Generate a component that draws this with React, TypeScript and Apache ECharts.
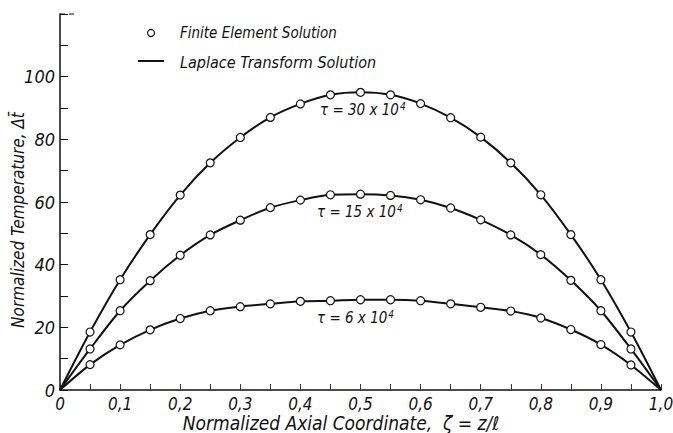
import React, { useEffect, useRef } from "react";
import * as echarts from "echarts";

const zeta = [0.05, 0.1, 0.15, 0.2, 0.25, 0.3, 0.35, 0.4, 0.45, 0.5, 0.55, 0.6, 0.65, 0.7, 0.75, 0.8, 0.85, 0.9, 0.95];
const tau30 = [18.5, 35.2, 49.6, 62.2, 72.5, 80.6, 87.0, 91.3, 94.2, 95.0, 94.2, 91.4, 86.9, 80.7, 72.5, 62.3, 49.6, 35.2, 18.5];
const tau15 = [13.1, 25.3, 34.9, 43.0, 49.5, 54.2, 58.2, 60.6, 62.3, 62.5, 62.1, 60.7, 58.1, 54.3, 49.5, 43.2, 35.0, 25.3, 13.1];
const tau6 = [8.1, 14.4, 19.2, 22.8, 25.3, 26.6, 27.5, 28.3, 28.5, 28.8, 28.8, 28.5, 27.5, 26.4, 25.2, 23.0, 19.3, 14.5, 8.0];
const curveLabels = ["30", "15", "6"];
const legendNames = ["Finite Element Solution", "Laplace Transform Solution"];
const xAxisTitle = "Normalized Axial Coordinate,  ζ = z/ℓ";
const yAxisTitle = "Normalized Temperature, Δt̄";

const FONT = "'Liberation Sans Narrow', 'DejaVu Sans Condensed', 'Liberation Sans', sans-serif";

export default function App() {
  const ref = useRef<HTMLDivElement>(null);
  useEffect(() => {
    if (!ref.current) return;
    const chart = echarts.init(ref.current, null, { renderer: "svg" });
    const sets = [tau30, tau15, tau6];
    const lineData = (vals: number[]) => [[0, 0], ...zeta.map((z, i) => [z, vals[i]]), [1, 0]];
    const ptData = (vals: number[]) => zeta.map((z, i) => [z, vals[i]]);
    const series: any[] = [];
    sets.forEach((vals) => {
      series.push({
        type: "line",
        data: lineData(vals),
        smooth: 0.3,
        showSymbol: false,
        symbol: "none",
        lineStyle: { color: "#111", width: 2 },
        z: 2,
      });
    });
    sets.forEach((vals) => {
      series.push({
        type: "scatter",
        data: ptData(vals),
        symbol: "circle",
        symbolSize: 8,
        itemStyle: { color: "#fff", borderColor: "#111", borderWidth: 1.2, opacity: 1 },
        z: 3,
      });
    });
    const labelPos = [
      { x: 320, y: 110 },
      { x: 317, y: 212 },
      { x: 317, y: 318 },
    ];
    const graphics: any[] = [
      {
        type: "circle",
        shape: { cx: 151, cy: 33, r: 3.5 },
        style: { fill: "#fff", stroke: "#111", lineWidth: 1.2 },
      },
      {
        type: "text",
        x: 180,
        y: 33,
        style: { text: legendNames[0], font: `italic 15px ${FONT}`, fill: "#111", verticalAlign: "middle" },
      },
      {
        type: "line",
        shape: { x1: 138, y1: 61, x2: 164, y2: 61 },
        style: { stroke: "#111", lineWidth: 2 },
      },
      {
        type: "text",
        x: 180,
        y: 62,
        style: { text: legendNames[1], font: `italic 16px ${FONT}`, fill: "#111", verticalAlign: "middle" },
      },
      {
        type: "line",
        shape: { x1: 60, y1: 14, x2: 76, y2: 14 },
        style: { stroke: "#111", lineWidth: 1, lineDash: [5, 4] },
      },
      {
        type: "text",
        x: 341,
        y: 423,
        style: { text: xAxisTitle, font: `italic 19px ${FONT}`, fill: "#111", align: "center", verticalAlign: "middle" },
      },
      {
        type: "text",
        x: 18,
        y: 220,
        rotation: Math.PI / 2,
        style: { text: yAxisTitle, font: `italic 17px ${FONT}`, fill: "#111", align: "center", verticalAlign: "middle" },
      },
    ];
    curveLabels.forEach((c, i) => {
      graphics.push({
        type: "text",
        x: labelPos[i].x,
        y: labelPos[i].y,
        style: {
          text: `τ = ${c} x 10{s|4}`,
          font: `italic 15px ${FONT}`,
          fill: "#111",
          verticalAlign: "middle",
          rich: { s: { font: `italic 10px ${FONT}`, fill: "#111", verticalAlign: "top", padding: [0, 0, 8, 1] } },
        },
      });
    });
    chart.setOption({
      animation: false,
      grid: { left: 60, right: 12, top: 14, bottom: 43, outerBoundsMode: "none", containLabel: false },
      xAxis: {
        type: "value",
        min: 0,
        max: 1,
        interval: 0.05,
        axisLine: { lineStyle: { color: "#111", width: 1.5 } },
        axisTick: {
          inside: true,
          length: 6,
          lineStyle: { color: "#333", width: 1 },
        },
        splitLine: { show: false },
        axisLabel: {
          fontFamily: FONT,
          fontStyle: "italic",
          fontSize: 17,
          color: "#111",
          margin: 5,
          formatter: (v: number) => {
            const k = Math.round(v * 100);
            if (k % 10 !== 0) return "";
            if (k === 0) return "0";
            return (k / 100).toFixed(1).replace(".", ",");
          },
        },
      },
      yAxis: {
        type: "value",
        min: 0,
        max: 120,
        interval: 10,
        axisLine: { show: true, lineStyle: { color: "#111", width: 1.5 } },
        axisTick: { show: true, inside: true, length: 8, lineStyle: { color: "#111", width: 1 } },
        splitLine: { show: false },
        axisLabel: {
          fontFamily: FONT,
          fontStyle: "italic",
          fontSize: 18,
          color: "#111",
          margin: 5,
          formatter: (v: number) => (v % 20 === 0 && v <= 100 ? String(v) : ""),
        },
      },
      series,
      graphic: graphics,
    });
    return () => chart.dispose();
  }, []);
  return <div ref={ref} style={{ width: 673, height: 433, position: "absolute", left: 0, top: 0, background: "#fff" }} />;
}
